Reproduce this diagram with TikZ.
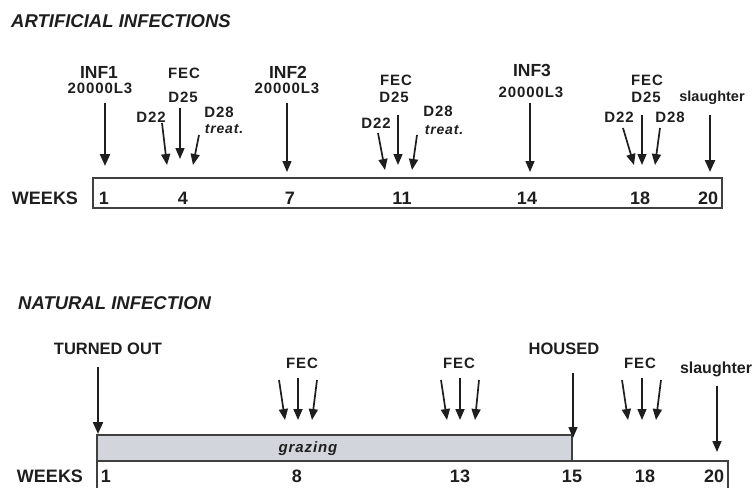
\documentclass[tikz,border=0pt]{standalone}
\usepackage{fontspec}
\setmainfont{Liberation Sans}
\newfontfamily\lblfont[LetterSpace=6]{Liberation Sans}
\usetikzlibrary{arrows.meta}
\definecolor{ink}{HTML}{1E1E1E}
\definecolor{graze}{HTML}{D2D6DC}
\tikzset{
 every node/.style={inner sep=0pt, text=ink},
 ttl/.style={font=\bfseries\itshape\fontsize{18.5}{20}\selectfont, anchor=west},
 big/.style={font=\bfseries\fontsize{18}{20}\selectfont},
 inf/.style={font=\bfseries\fontsize{17.5}{19}\selectfont},
 evt/.style={font=\bfseries\fontsize{16.5}{18}\selectfont},
 sm/.style={font=\lblfont\bfseries\fontsize{15}{16}\selectfont},
 smi/.style={font=\lblfont\bfseries\itshape\fontsize{14}{15}\selectfont},
 sl/.style={font=\bfseries\fontsize{14.5}{16}\selectfont},
 bigarr/.style={draw=ink, line width=2.2pt, -{Triangle[width=10pt,length=12pt]}},
 arr/.style={draw=ink, line width=1.7pt, -{Triangle[width=9pt,length=11pt]}},
 thinarr/.style={draw=ink, line width=1.4pt, -{Triangle[width=9pt,length=11pt]}},
 tbox/.style={draw=ink!85, line width=1.5pt},
}
\begin{document}
\begin{tikzpicture}[x=1pt,y=-1pt]
\useasboundingbox (0,0) rectangle (754,487);
% ---------------- ARTIFICIAL INFECTIONS ----------------
\node[ttl] (t1) at (11,21) {ARTIFICIAL INFECTIONS};
\draw[tbox] (93,178) rectangle (722,208);
\node[big] (w1) at (45,198) {WEEKS};
\node[big] (n1) at (104,198) {1};
\node[big] (n4) at (183,198) {4};
\node[big] (n7) at (290,198) {7};
\node[big] (n11) at (402,198) {11};
\node[big] (n14) at (527,198) {14};
\node[big] (n18) at (640,198) {18};
\node[big] (n20) at (708,198) {20};
% INF1
\node[inf] (inf1) at (99,72) {INF1};
\node[sm] (l1) at (100,88) {20000L3};
\coordinate (i1s) at (105,103); \coordinate (i1e) at (105,166);
\draw[bigarr] (i1s) -- (i1e);
% group 1
\node[sm] (f1) at (184,73) {FEC};
\node[sm] (d25a) at (183,97) {D25};
\node[sm] (d22a) at (151,117) {D22};
\node[sm] (d28a) at (219,112) {D28};
\node[smi] (tr1) at (224,129) {treat.};
\coordinate (a1s) at (162,123); \coordinate (a1e) at (167,165);
\coordinate (a2s) at (180,108); \coordinate (a2e) at (180,159);
\coordinate (a3s) at (199,135); \coordinate (a3e) at (193,165);
\draw[arr] (a1s) -- (a1e);
\draw[thinarr] (a2s) -- (a2e);
\draw[arr] (a3s) -- (a3e);
% INF2
\node[inf] (inf2) at (288,72) {INF2};
\node[sm] (l2) at (287,88) {20000L3};
\coordinate (i2s) at (287,103); \coordinate (i2e) at (287,172);
\draw[thinarr] (i2s) -- (i2e);
% group 2
\node[sm] (f2) at (396,80) {FEC};
\node[sm] (d25b) at (394,97) {D25};
\node[sm] (d22b) at (376,123) {D22};
\node[sm] (d28b) at (438,111) {D28};
\node[smi] (tr2) at (444,130) {treat.};
\coordinate (b1s) at (378,133); \coordinate (b1e) at (385,170);
\coordinate (b2s) at (398,115); \coordinate (b2e) at (398,165);
\coordinate (b3s) at (417,135); \coordinate (b3e) at (412,170);
\draw[arr] (b1s) -- (b1e);
\draw[thinarr] (b2s) -- (b2e);
\draw[arr] (b3s) -- (b3e);
% INF3
\node[inf] (inf3) at (532,70) {INF3};
\node[sm] (l3) at (531,92) {20000L3};
\coordinate (i3s) at (530,103); \coordinate (i3e) at (530,172);
\draw[thinarr] (i3s) -- (i3e);
% group 3
\node[sm] (f3) at (647,80) {FEC};
\node[sm] (d25c) at (646,97) {D25};
\node[sm] (d22c) at (619,117) {D22};
\node[sm] (d28c) at (670,117) {D28};
\coordinate (c1s) at (623,128); \coordinate (c1e) at (634,165);
\coordinate (c2s) at (642,115); \coordinate (c2e) at (642,165);
\coordinate (c3s) at (660,128); \coordinate (c3e) at (655,165);
\draw[arr] (c1s) -- (c1e);
\draw[thinarr] (c2s) -- (c2e);
\draw[arr] (c3s) -- (c3e);
% slaughter
\node[sl] (s1) at (712,98) {slaughter};
\coordinate (s1s) at (710,115); \coordinate (s1e) at (710,172);
\draw[bigarr] (s1s) -- (s1e);
% ---------------- NATURAL INFECTION ----------------
\node[ttl] (t2) at (18,303) {NATURAL INFECTION};
\draw[tbox] (97,461) rectangle (728,500);
\draw[tbox, fill=graze] (97,435) rectangle (572,461);
\node[font=\lblfont\bfseries\itshape\fontsize{15}{16}\selectfont] (gr) at (308,449) {grazing};
\node[big] (w2) at (50,476.5) {WEEKS};
\node[big] (m1) at (106,476.5) {1};
\node[big] (m8) at (297,476.5) {8};
\node[big] (m13) at (460,476.5) {13};
\node[big] (m15) at (572,476.5) {15};
\node[big] (m18) at (645,476.5) {18};
\node[big] (m20) at (714,476.5) {20};
% turned out
\node[evt] (to) at (108,349) {TURNED OUT};
\coordinate (tos) at (98,367); \coordinate (toe) at (98,434);
\draw[bigarr] (tos) -- (toe);
% FEC groups
\node[sm] (g1) at (302,363) {FEC};
\coordinate (p1s) at (279,380); \coordinate (p1e) at (285,420);
\coordinate (p2s) at (298,378); \coordinate (p2e) at (298,420);
\coordinate (p3s) at (317,380); \coordinate (p3e) at (312,420);
\draw[arr] (p1s) -- (p1e); \draw[arr] (p2s) -- (p2e); \draw[arr] (p3s) -- (p3e);
\node[sm] (g2) at (459,363) {FEC};
\coordinate (q1s) at (441,380); \coordinate (q1e) at (447,420);
\coordinate (q2s) at (460,378); \coordinate (q2e) at (460,420);
\coordinate (q3s) at (479,380); \coordinate (q3e) at (475,420);
\draw[arr] (q1s) -- (q1e); \draw[arr] (q2s) -- (q2e); \draw[arr] (q3s) -- (q3e);
\node[sm] (g3) at (640,363) {FEC};
\coordinate (r1s) at (622,380); \coordinate (r1e) at (628,420);
\coordinate (r2s) at (642,378); \coordinate (r2e) at (642,420);
\coordinate (r3s) at (661,380); \coordinate (r3e) at (656,420);
\draw[arr] (r1s) -- (r1e); \draw[thinarr] (r2s) -- (r2e); \draw[arr] (r3s) -- (r3e);
% housed
\node[evt] (ho) at (564,349) {HOUSED};
\coordinate (hos) at (573,373); \coordinate (hoe) at (573,438);
\draw[thinarr] (hos) -- (hoe);
% slaughter
\node[font=\bfseries\fontsize{16}{18}\selectfont] (s2) at (716,369) {slaughter};
\coordinate (s2s) at (717,386); \coordinate (s2e) at (717,452);
\draw[thinarr] (s2s) -- (s2e);
\end{tikzpicture}
\end{document}
